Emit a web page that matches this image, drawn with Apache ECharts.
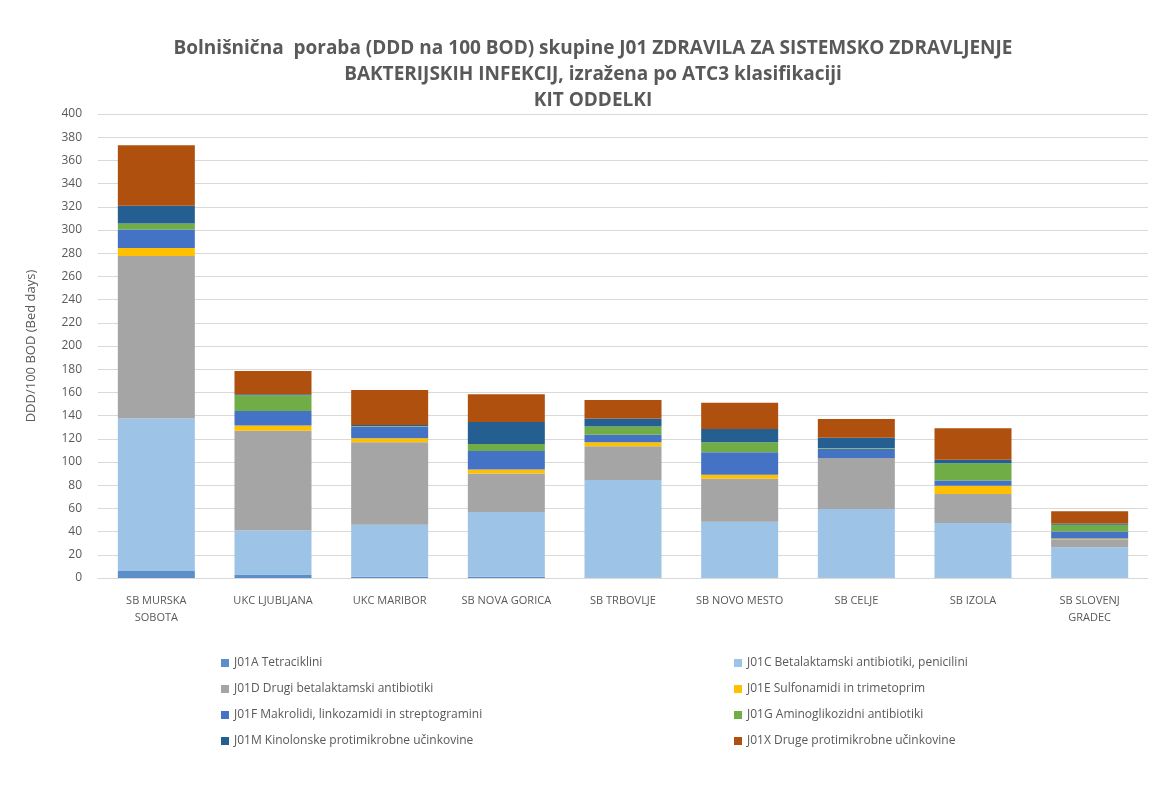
<!DOCTYPE html>
<html>
<head>
<meta charset="utf-8">
<script src="https://cdn.jsdelivr.net/npm/echarts@6/dist/echarts.min.js"></script>
<style>
  html, body { margin: 0; padding: 0; background: #fff; }
  #chart { width: 1157px; height: 794px; }
</style>
</head>
<body>
<div id="chart"></div>
<script>
// bolnisnice (kategorije)
var hospitals = ['SB MURSKA\nSOBOTA', 'UKC LJUBLJANA', 'UKC MARIBOR', 'SB NOVA GORICA', 'SB TRBOVLJE',
  'SB NOVO MESTO', 'SB CELJE', 'SB IZOLA', 'SB SLOVENJ\nGRADEC'];

// vrednosti po ATC3 skupinah (DDD/100 BOD)
var j01a = [6, 3, 1, 1, 0.5, 0.5, 0.5, 0.5, 0.5];
var j01c = [131.5, 38, 45, 56, 84, 48, 59, 47, 26];
var j01d = [140, 86, 71, 33, 29, 37, 43, 25, 7];
var j01e = [7, 4.5, 3.5, 3.5, 3.5, 3.5, 0.5, 7, 0.5];
var j01f = [16, 12.5, 10, 16, 6.5, 19.5, 8.5, 4.5, 6];
var j01g = [5, 13.5, 0.5, 6, 7, 8.5, 0.5, 15, 6];
var j01m = [15.5, 1, 1, 19, 7, 11.5, 9, 3, 1];
var j01x = [52, 20, 30, 24, 16, 22.5, 16, 27, 10.5];

var seriesNames = ['J01A Tetraciklini', 'J01C Betalaktamski antibiotiki, penicilini',
  'J01D Drugi betalaktamski antibiotiki', 'J01E Sulfonamidi in trimetoprim',
  'J01F Makrolidi, linkozamidi in streptogramini', 'J01G Aminoglikozidni antibiotiki',
  'J01M Kinolonske protimikrobne učinkovine', 'J01X Druge protimikrobne učinkovine'];
var seriesData = [j01a, j01c, j01d, j01e, j01f, j01g, j01m, j01x];
var colors = ['#5B8FC9', '#9DC3E6', '#A5A5A5', '#FFC000', '#4472C4', '#70AD47', '#255E91', '#B0500F'];

var fontFam = '"Open Sans", "Noto Sans", sans-serif';

var series = [];
for (var i = 0; i < seriesNames.length; i++) {
  series.push({
    name: seriesNames[i],
    type: 'bar',
    stack: 'total',
    barWidth: '66%',
    data: seriesData[i],
    itemStyle: { color: colors[i] }
  });
}

var legendStyle = {
  orient: 'vertical',
  itemWidth: 8,
  itemHeight: 8,
  itemGap: 14,
  icon: 'rect',
  textStyle: { color: '#595959', fontSize: 12, fontFamily: fontFam }
};

var myChart = echarts.init(document.getElementById('chart'));
myChart.setOption({
  color: colors,
  animation: false,
  title: {
    text: 'Bolnišnična  poraba (DDD na 100 BOD) skupine J01 ZDRAVILA ZA SISTEMSKO ZDRAVLJENJE\nBAKTERIJSKIH INFEKCIJ, izražena po ATC3 klasifikaciji\nKIT ODDELKI',
    left: 588,
    top: 31,
    textAlign: 'center',
    textStyle: { color: '#595959', fontSize: 19, fontWeight: 'bold', lineHeight: 26, fontFamily: fontFam, align: 'center' }
  },
  legend: [
    Object.assign({ left: 216, top: 652, data: [seriesNames[0], seriesNames[2], seriesNames[4], seriesNames[6]] }, legendStyle),
    Object.assign({ left: 729, top: 652, data: [seriesNames[1], seriesNames[3], seriesNames[5], seriesNames[7]] }, legendStyle)
  ],
  grid: { left: 98, right: 9, top: 114, bottom: 216 },
  xAxis: {
    type: 'category',
    data: hospitals,
    axisLine: { lineStyle: { color: '#d9d9d9' } },
    axisTick: { show: false },
    axisLabel: { color: '#595959', fontSize: 11, fontFamily: fontFam, margin: 14, lineHeight: 17, interval: 0 }
  },
  yAxis: {
    type: 'value',
    min: 0,
    max: 400,
    interval: 20,
    name: 'DDD/100 BOD (Bed days)',
    nameLocation: 'middle',
    nameGap: 60,
    nameTextStyle: { color: '#595959', fontSize: 13, fontFamily: fontFam },
    axisLine: { show: false },
    axisTick: { show: false },
    axisLabel: { color: '#595959', fontSize: 12, fontFamily: fontFam, margin: 16 },
    splitLine: { lineStyle: { color: '#d9d9d9' } }
  },
  series: series
});
</script>
</body>
</html>
